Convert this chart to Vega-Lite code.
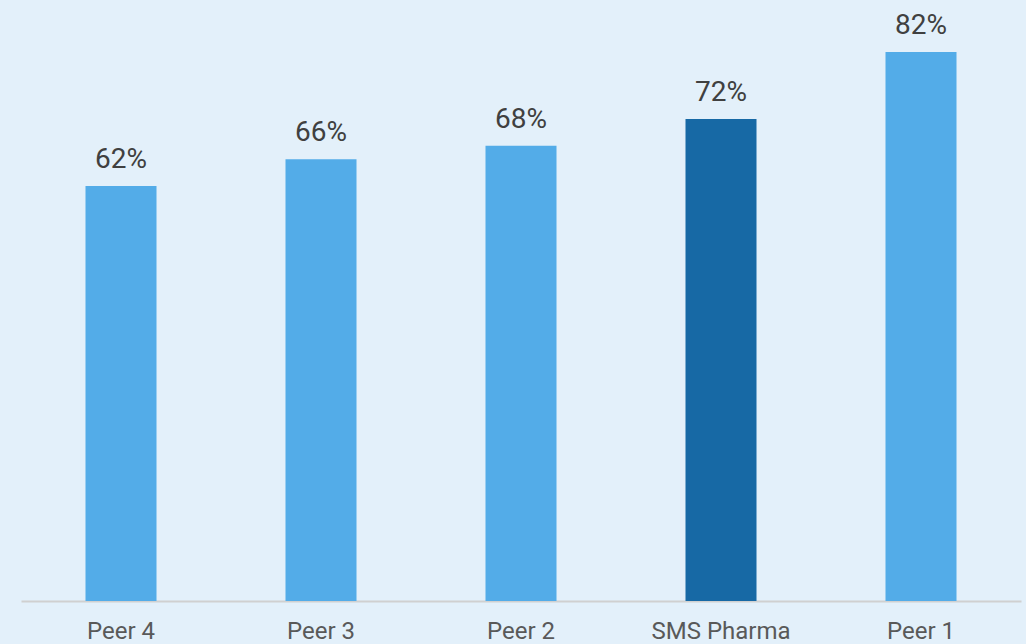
{
  "$schema": "https://vega.github.io/schema/vega-lite/v6.json",
  "width": 1026,
  "height": 601,
  "padding": {"left": 0, "top": 0, "right": 0, "bottom": 43},
  "autosize": "none",
  "background": "#E3F0FA",
  "config": {"view": {"stroke": null}, "font": "Roboto"},
  "data": {"values": [
    {"company": "Peer 4", "value": 0.62, "highlight": "no"},
    {"company": "Peer 3", "value": 0.66, "highlight": "no"},
    {"company": "Peer 2", "value": 0.68, "highlight": "no"},
    {"company": "SMS Pharma", "value": 0.72, "highlight": "yes"},
    {"company": "Peer 1", "value": 0.82, "highlight": "no"}
  ]},
  "encoding": {
    "x": {
      "field": "company", "type": "nominal", "sort": null,
      "scale": {"range": [21, 1021], "paddingInner": 0.645, "paddingOuter": 0.3225},
      "axis": {"title": null, "ticks": false, "labelAngle": 0, "labelFontSize": 24, "labelColor": "#595959",
               "labelFont": "Roboto", "labelBaseline": "alphabetic", "labelPadding": 37,
               "domainColor": "#D0D0D0", "domainWidth": 2, "grid": false}
    },
    "y": {
      "field": "value", "type": "quantitative",
      "scale": {"domain": [0, 0.8977], "nice": false},
      "axis": null
    }
  },
  "layer": [
    {
      "mark": {"type": "bar"},
      "encoding": {
        "color": {"field": "highlight", "type": "nominal",
                  "scale": {"domain": ["no", "yes"], "range": ["#53ACE8", "#1769A5"]}, "legend": null}
      }
    },
    {
      "mark": {"type": "text", "dy": -18, "baseline": "alphabetic", "fontSize": 28, "color": "#404040", "font": "Roboto"},
      "encoding": {"text": {"field": "value", "type": "quantitative", "format": ".0%"}}
    }
  ]
}
